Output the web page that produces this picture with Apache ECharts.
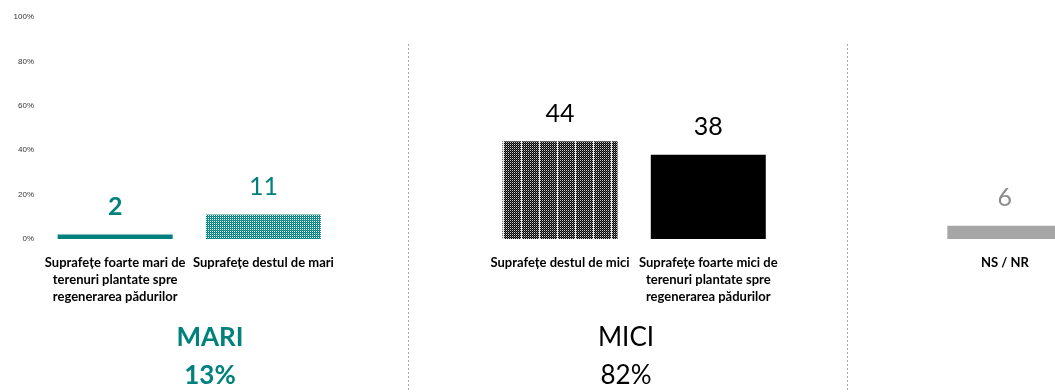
<!DOCTYPE html>
<html>
<head>
<meta charset="utf-8">
<script src="https://cdn.jsdelivr.net/npm/echarts@6/dist/echarts.min.js"></script>
<style>
html,body{margin:0;padding:0;background:#fff;}
#c{width:1055px;height:392px;}
</style>
</head>
<body>
<div id="c"></div>
<script>
// ---- data ----
const categories = [
  'Suprafețe foarte mari de\nterenuri plantate spre\nregenerarea pădurilor',
  'Suprafețe destul de mari',
  '',
  'Suprafețe destul de mici',
  'Suprafețe foarte mici de\nterenuri plantate spre\nregenerarea pădurilor',
  '',
  'NS / NR'
];
const values = [2, 11, null, 44, 38, null, 6];
const yTicks = [0, 20, 40, 60, 80, 100];
const groupLabels = ['MARI', 'MICI'];
const groupTotals = ['13%', '82%'];

const TEAL = '#00817D';

function tealPattern() {
  const c = document.createElement('canvas');
  c.width = 2; c.height = 2;
  const g = c.getContext('2d');
  g.fillStyle = '#ffffff'; g.fillRect(0, 0, 2, 2);
  g.fillStyle = TEAL; g.fillRect(0, 0, 1, 1); g.fillRect(1, 1, 1, 1);
  g.fillStyle = '#2a9894'; g.fillRect(1, 0, 1, 1);
  return { image: c, repeat: 'repeat' };
}
function blackPattern() {
  const c = document.createElement('canvas');
  c.width = 18; c.height = 2;
  const g = c.getContext('2d');
  g.fillStyle = '#000000'; g.fillRect(0, 0, 18, 2);
  for (let x = 0; x < 18; x += 2) {
    g.fillStyle = '#d0d0d0'; g.fillRect(x, 0, 1, 1);
    g.fillStyle = '#555555'; g.fillRect(x + 1, 1, 1, 1);
  }
  g.fillStyle = '#e8e8e8'; g.fillRect(17, 0, 1, 2);
  return { image: c, repeat: 'repeat' };
}

const barColors = [TEAL, tealPattern(), null, blackPattern(), '#000000', null, '#A6A6A6'];
const labelColors = [TEAL, TEAL, null, '#000000', '#000000', null, '#8C8C8C'];
const labelWeights = ['bold', 'normal', null, 'normal', 'normal', null, 'normal'];

const data = values.map((v, i) => v == null ? '-' : ({
  value: v,
  itemStyle: { color: barColors[i] },
  label: { color: labelColors[i], fontWeight: labelWeights[i] }
}));

const chart = echarts.init(document.getElementById('c'), null, { renderer: 'canvas' });
chart.setOption({
  animation: false,
  backgroundColor: '#ffffff',
  grid: { left: 41, width: 1038, top: 17, bottom: 153, outerBoundsMode: 'none', containLabel: false },
  xAxis: {
    type: 'category',
    data: categories,
    axisLine: { show: false },
    axisTick: { show: false },
    axisLabel: {
      interval: 0,
      margin: 15,
      fontFamily: 'Lato',
      fontWeight: 'bold',
      fontSize: 13,
      lineHeight: 17,
      color: '#000000',
      align: 'center',
      hideOverlap: false
    }
  },
  yAxis: {
    type: 'value',
    min: 0, max: 100, interval: 20,
    splitLine: { show: false },
    axisLine: { show: false },
    axisTick: { show: false },
    axisLabel: {
      formatter: '{value}%',
      fontFamily: 'Liberation Sans',
      fontSize: 8,
      color: '#333333',
      margin: 7,
      customValues: yTicks
    }
  },
  series: [{
    type: 'bar',
    data: data,
    barWidth: 115,
    label: {
      show: true,
      position: 'top',
      distance: 15,
      fontFamily: 'Lato',
      fontSize: 25
    }
  }],
  graphic: [
    { type: 'line', shape: { x1: 408.5, y1: 44, x2: 408.5, y2: 392 },
      style: { stroke: '#aaaaaa', lineWidth: 1, lineDash: [2, 2] } },
    { type: 'line', shape: { x1: 847.5, y1: 44, x2: 847.5, y2: 392 },
      style: { stroke: '#aaaaaa', lineWidth: 1, lineDash: [2, 2] } },
    { type: 'text', x: 210, y: 338, style: { text: groupLabels[0], fill: TEAL, font: 'bold 26px Lato', textAlign: 'center', textVerticalAlign: 'middle' } },
    { type: 'text', x: 210, y: 376, style: { text: groupTotals[0], fill: TEAL, font: 'bold 26px Lato', textAlign: 'center', textVerticalAlign: 'middle' } },
    { type: 'text', x: 626, y: 338, style: { text: groupLabels[1], fill: '#000', font: '26px Lato', textAlign: 'center', textVerticalAlign: 'middle' } },
    { type: 'text', x: 626, y: 376, style: { text: groupTotals[1], fill: '#000', font: '26px Lato', textAlign: 'center', textVerticalAlign: 'middle' } }
  ]
});
</script>
</body>
</html>
